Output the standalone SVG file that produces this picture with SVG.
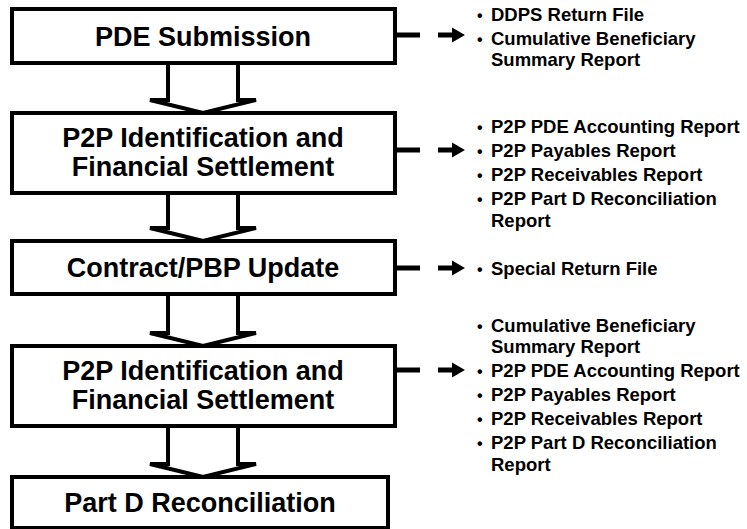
<svg xmlns="http://www.w3.org/2000/svg" width="747" height="529" viewBox="0 0 747 529">
<style>
.box{fill:#fff;stroke:#000;stroke-width:4}
.title{font-family:"Liberation Sans",Arial,sans-serif;font-weight:bold;font-size:27px;fill:#000;text-anchor:middle}
.item{font-family:"Liberation Sans",Arial,sans-serif;font-weight:bold;font-size:18.5px;fill:#000}
.dot{font-family:"Liberation Sans",Arial,sans-serif;font-weight:bold;font-size:16px;fill:#000}
.flow{fill:#fff;stroke:#000;stroke-width:4;stroke-linejoin:miter}
.stub{stroke:#000;stroke-width:5}
.out{fill:#000}
</style>
<g id="connectors">
<path class="flow" d="M168,63 V100 H150 L203,113 L256,100 H238 V63"/>
<path class="flow" d="M168,193 V228 H150 L203,241 L256,228 H238 V193"/>
<path class="flow" d="M168,294 V333 H150 L203,346 L256,333 H238 V294"/>
<path class="flow" d="M168,426 V464 H150 L203,477 L256,464 H238 V426"/>
<line class="stub" x1="395" y1="35" x2="420" y2="35"/>
<line class="stub" x1="395" y1="150" x2="420" y2="150"/>
<line class="stub" x1="395" y1="268" x2="420" y2="268"/>
<line class="stub" x1="395" y1="370" x2="420" y2="370"/>
<path class="out" d="M438,32.5 H452 V27.5 L465,35 L452,42.5 V37.5 H438 Z"/>
<path class="out" d="M438,147.5 H452 V142.5 L465,150 L452,157.5 V152.5 H438 Z"/>
<path class="out" d="M438,265.5 H452 V260.5 L465,268 L452,275.5 V270.5 H438 Z"/>
<path class="out" d="M438,367.5 H452 V362.5 L465,370 L452,377.5 V372.5 H438 Z"/>
</g>
<g id="node-pde-submission">
<rect class="box" x="12" y="9" width="383" height="54"/>
<text class="title" x="203" y="45.5">PDE Submission</text>
</g>
<g id="node-p2p-1">
<rect class="box" x="12" y="113" width="383" height="80"/>
<text class="title" x="203" y="146.5">P2P Identification and</text>
<text class="title" x="203" y="175.5">Financial Settlement</text>
</g>
<g id="node-contract">
<rect class="box" x="12" y="241" width="383" height="53"/>
<text class="title" x="203" y="277">Contract/PBP Update</text>
</g>
<g id="node-p2p-2">
<rect class="box" x="12" y="346" width="383" height="80"/>
<text class="title" x="203" y="379.5">P2P Identification and</text>
<text class="title" x="203" y="408.5">Financial Settlement</text>
</g>
<g id="node-partd">
<rect class="box" x="12" y="477" width="376" height="51"/>
<text class="title" x="200" y="512">Part D Reconciliation</text>
</g>
<g id="list-1">
<text class="dot" x="477" y="21">•</text><text class="item" x="491" y="21">DDPS Return File</text>
<text class="dot" x="477" y="44.5">•</text><text class="item" x="491" y="44.5">Cumulative Beneficiary</text>
<text class="item" x="491" y="66">Summary Report</text>
</g>
<g id="list-2">
<text class="dot" x="477" y="133">•</text><text class="item" x="491" y="133">P2P PDE Accounting Report</text>
<text class="dot" x="477" y="157">•</text><text class="item" x="491" y="157">P2P Payables Report</text>
<text class="dot" x="477" y="181">•</text><text class="item" x="491" y="181">P2P Receivables Report</text>
<text class="dot" x="477" y="205">•</text><text class="item" x="491" y="205">P2P Part D Reconciliation</text>
<text class="item" x="491" y="226.5">Report</text>
</g>
<g id="list-3">
<text class="dot" x="477" y="275">•</text><text class="item" x="491" y="275">Special Return File</text>
</g>
<g id="list-4">
<text class="dot" x="477" y="331.5">•</text><text class="item" x="491" y="331.5">Cumulative Beneficiary</text>
<text class="item" x="491" y="353">Summary Report</text>
<text class="dot" x="477" y="377">•</text><text class="item" x="491" y="377">P2P PDE Accounting Report</text>
<text class="dot" x="477" y="401">•</text><text class="item" x="491" y="401">P2P Payables Report</text>
<text class="dot" x="477" y="425">•</text><text class="item" x="491" y="425">P2P Receivables Report</text>
<text class="dot" x="477" y="449">•</text><text class="item" x="491" y="449">P2P Part D Reconciliation</text>
<text class="item" x="491" y="470.5">Report</text>
</g>
</svg>
